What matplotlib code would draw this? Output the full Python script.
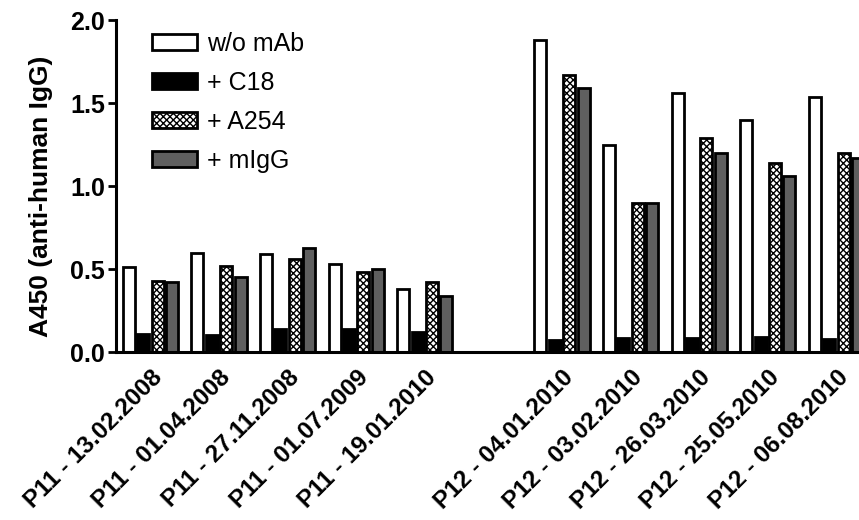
import numpy as np
import matplotlib.pyplot as plt

plt.rcParams['font.family'] = ['Liberation Sans', 'DejaVu Sans']
plt.rcParams['hatch.linewidth'] = 1.0

samples = ['P11 - 13.02.2008', 'P11 - 01.04.2008', 'P11 - 27.11.2008',
           'P11 - 01.07.2009', 'P11 - 19.01.2010',
           'P12 - 04.01.2010', 'P12 - 03.02.2010', 'P12 - 26.03.2010',
           'P12 - 25.05.2010', 'P12 - 06.08.2010']
slots = [0, 1, 2, 3, 4, 6, 7, 8, 9, 10]  # one empty slot between patients

wo_mab = [0.51, 0.60, 0.59, 0.53, 0.38, 1.88, 1.25, 1.56, 1.40, 1.54]
c18 = [0.11, 0.10, 0.14, 0.14, 0.12, 0.07, 0.085, 0.085, 0.09, 0.08]
a254 = [0.43, 0.52, 0.56, 0.48, 0.42, 1.67, 0.90, 1.29, 1.14, 1.20]
migg = [0.42, 0.45, 0.63, 0.50, 0.34, 1.59, 0.90, 1.20, 1.06, 1.17]

series = [
    ('w/o mAb', wo_mab, dict(facecolor='white')),
    ('+ C18', c18, dict(facecolor='black')),
    ('+ A254', a254, dict(facecolor='white', hatch='xxxxx')),
    ('+ mIgG', migg, dict(facecolor='#5f5f5f')),
]

fig = plt.figure(figsize=(8.59, 5.2), dpi=100)
ax = fig.add_axes([0.135, 0.323, 0.865, 0.638])

x = np.array(slots, dtype=float)
pitch = 0.21
width = 0.175
for k, (label, vals, style) in enumerate(series):
    ax.bar(x + (k - 1.5) * pitch, vals, width, label=label,
           edgecolor='black', linewidth=2.0, **style)

ax.set_xlim(-0.503, 10.33)
ax.set_ylim(0, 2.0)
ax.set_yticks([0.0, 0.5, 1.0, 1.5, 2.0])
ax.set_yticklabels(['0.0', '0.5', '1.0', '1.5', '2.0'], fontsize=18, fontweight='bold')
ax.set_xticks(x)
ax.set_xticklabels(samples, rotation=45, ha='right', rotation_mode='anchor',
                   fontsize=17.5, fontweight='bold')
ax.tick_params(axis='x', length=0, pad=10)
ax.tick_params(axis='y', length=6, width=2, pad=2)
ax.set_ylabel('A450 (anti-human IgG)', fontsize=19, fontweight='bold', labelpad=6)
ax.yaxis.set_label_coords(-0.085, 0.47)

for side in ['top', 'right']:
    ax.spines[side].set_visible(False)
for side in ['left', 'bottom']:
    ax.spines[side].set_linewidth(2.2)

ax.legend(loc='upper left', bbox_to_anchor=(0.035, 0.995), frameon=False,
          fontsize=18, handlelength=1.8, handleheight=0.6,
          handletextpad=0.4, labelspacing=0.6, borderaxespad=0.0)

fig.savefig('out.png', dpi=100)
